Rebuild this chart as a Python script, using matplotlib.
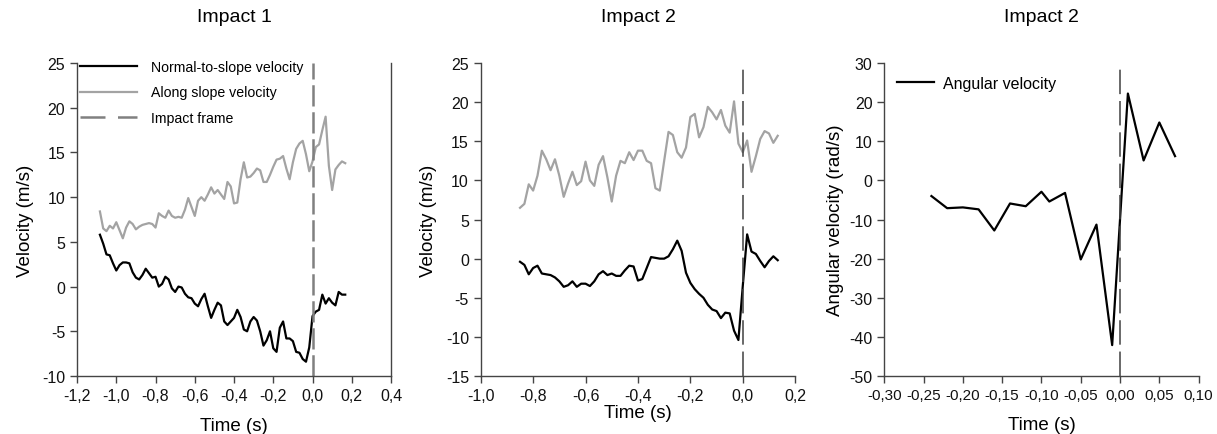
import numpy as np
import matplotlib
matplotlib.use("Agg")
import matplotlib.pyplot as plt

plt.rcParams['font.family'] = ['Liberation Sans', 'DejaVu Sans']
plt.rcParams['axes.unicode_minus'] = False

# video frames at 60 fps, frame 0 = impact
fps = 60.0
frames1 = np.arange(-65, 11)
frames2 = np.arange(-51, 9)

normal1 = [5.8, 4.8, 3.6, 3.5, 2.6, 1.8, 2.4, 2.7, 2.7, 2.6,
           1.6, 1.0, 0.8, 1.3, 2.0, 1.5, 1.0, 1.1, 0.0, 0.3,
           1.1, 0.8, -0.2, -0.6, 0.0, -0.1, -0.8, -1.2, -1.3, -1.9,
           -2.2, -1.4, -0.8, -2.2, -3.5, -2.6, -1.8, -2.1, -3.9, -4.3,
           -3.9, -3.5, -2.6, -3.4, -4.8, -5.0, -3.9, -3.4, -3.8, -5.0,
           -6.6, -6.0, -5.0, -6.9, -7.3, -4.6, -3.9, -5.8, -5.8, -6.1,
           -7.3, -7.4, -8.1, -8.4, -6.8, -3.3, -2.8, -2.6, -0.9, -1.9,
           -1.3, -1.8, -2.1, -0.6, -0.9, -0.9]
along1 = [8.4, 6.5, 6.2, 6.8, 6.5, 7.2, 6.3, 5.4, 6.6, 7.3,
          7.0, 6.4, 6.7, 6.9, 7.0, 7.1, 7.0, 6.6, 8.2, 7.9,
          7.7, 8.5, 7.9, 7.7, 7.8, 7.7, 8.6, 9.9, 8.9, 7.9,
          9.6, 10.0, 9.6, 10.3, 11.1, 10.4, 10.8, 10.3, 9.8, 11.7,
          11.2, 9.3, 9.4, 12.0, 13.9, 12.2, 12.3, 12.7, 13.2, 13.0,
          11.7, 11.7, 12.5, 13.4, 14.2, 14.3, 14.6, 13.2, 12.0, 13.9,
          15.4, 16.0, 16.3, 14.8, 12.9, 14.0, 15.6, 15.9, 17.5, 19.0,
          13.5, 10.8, 13.1, 13.6, 14.0, 13.8]

normal2 = [-0.4, -0.8, -2.0, -1.2, -0.9, -1.9, -2.0, -2.1, -2.4, -2.9,
           -3.6, -3.4, -2.9, -3.6, -3.2, -3.2, -3.5, -2.9, -2.0, -1.6,
           -2.1, -1.9, -2.2, -2.2, -1.5, -0.9, -1.0, -2.8, -2.6, -1.2,
           0.2, 0.1, 0.0, 0.0, 0.3, 1.2, 2.3, 1.0, -1.8, -3.1,
           -3.9, -4.5, -5.0, -5.9, -6.5, -6.7, -7.6, -6.9, -7.0, -9.2,
           -10.4, -3.5, 3.1, 0.9, 0.6, -0.3, -1.1, -0.3, 0.3, -0.2]
along2 = [6.5, 7.0, 9.5, 8.7, 10.6, 13.8, 12.7, 11.3, 12.7, 10.6,
          7.9, 9.6, 11.1, 9.4, 9.9, 12.4, 10.0, 9.3, 12.0, 13.1,
          10.4, 7.3, 10.6, 12.5, 12.2, 13.6, 12.6, 13.8, 13.8, 12.5,
          12.2, 9.0, 8.7, 12.5, 16.2, 15.8, 13.6, 12.9, 14.2, 18.1,
          18.5, 15.5, 16.8, 19.4, 18.7, 17.8, 19.0, 17.0, 16.1, 20.1,
          14.7, 13.6, 15.1, 11.1, 13.1, 15.3, 16.3, 16.0, 14.8, 15.7]

t3 = [-0.24, -0.22, -0.20, -0.18, -0.16, -0.14, -0.12, -0.10, -0.09,
      -0.07, -0.05, -0.03, -0.01, 0.01, 0.03, 0.05, 0.07]
angular3 = [-4.0, -7.1, -6.9, -7.4, -12.8, -5.9, -6.6, -2.9, -5.4,
            -3.2, -20.2, -11.3, -42.1, 22.2, 5.1, 14.8, 6.2]

t1 = frames1 / fps
t2 = frames2 / fps

gray = '#a3a3a3'
spine_col = '#444444'


def comma(v, nd):
    v = round(v, nd)
    if v == 0:
        v = 0.0
    return ('%.*f' % (nd, v)).replace('.', ',')


def style(ax, right=False):
    for s in ['top', 'right']:
        ax.spines[s].set_visible(False)
    if right:
        ax.spines['right'].set_visible(True)
    for s in ax.spines.values():
        s.set_color(spine_col)
        s.set_linewidth(1.0)
    ax.tick_params(direction='out', length=5, width=1, color=spine_col,
                   labelsize=11.5, labelcolor='#111111')


fig = plt.figure(figsize=(12.17, 4.35), dpi=100)
ax1 = fig.add_axes([0.0633, 0.1333, 0.258, 0.7195])
ax2 = fig.add_axes([0.395, 0.1333, 0.2584, 0.7195])
ax3 = fig.add_axes([0.7266, 0.1333, 0.2583, 0.7195])

# panel 1
ax1.plot(t1, normal1, color='black', lw=1.6, label='Normal-to-slope velocity')
ax1.plot(t1, along1, color=gray, lw=1.6, label='Along slope velocity')
ax1.plot([0, 0], [-10, 25], color='#808080', lw=1.8, dashes=(8.5, 2.3), label='Impact frame')
ax1.set_xlim(-1.2, 0.4)
ax1.set_ylim(-10, 25)
ax1.set_xticks(np.round(np.arange(-1.2, 0.41, 0.2), 1))
ax1.set_yticks(np.arange(-10, 26, 5))
ax1.xaxis.set_major_formatter(plt.FuncFormatter(lambda v, p: comma(v, 1)))
style(ax1, right=True)
ax1.set_xlabel('Time (s)', fontsize=13.5, labelpad=10)
ax1.set_ylabel('Velocity (m/s)', fontsize=13.5, labelpad=6)
ax1.set_title('Impact 1', fontsize=14, pad=30)
leg = ax1.legend(loc='upper left', bbox_to_anchor=(-0.03, 1.05), frameon=False,
                 fontsize=10.2, handlelength=4.0, handletextpad=1.0, labelspacing=0.8)
leg.get_lines()[2].set_dashes((10, 5))

# panel 2
ax2.plot(t2, normal2, color='black', lw=1.6)
ax2.plot(t2, along2, color=gray, lw=1.6)
ax2.plot([0, 0], [-15, 25], color='#404040', lw=1.1, dashes=(16, 4.5))
ax2.set_xlim(-1.0, 0.2)
ax2.set_ylim(-15, 25)
ax2.set_xticks(np.round(np.arange(-1.0, 0.21, 0.2), 1))
ax2.set_yticks(np.arange(-15, 26, 5))
ax2.xaxis.set_major_formatter(plt.FuncFormatter(lambda v, p: comma(v, 1)))
style(ax2)
ax2.set_xlabel('Time (s)', fontsize=13.5, labelpad=1)
ax2.set_ylabel('Velocity (m/s)', fontsize=13.5, labelpad=6)
ax2.set_title('Impact 2', fontsize=14, pad=30)

# panel 3
ax3.plot(t3, angular3, color='black', lw=1.6, label='Angular velocity')
ax3.plot([0, 0], [-50, 30], color='#404040', lw=1.1, dashes=(16, 4.5))
ax3.set_xlim(-0.30, 0.10)
ax3.set_ylim(-50, 30)
ax3.set_xticks(np.round(np.arange(-0.30, 0.101, 0.05), 2))
ax3.set_yticks(np.arange(-50, 31, 10))
ax3.xaxis.set_major_formatter(plt.FuncFormatter(lambda v, p: comma(v, 2)))
style(ax3)
ax3.tick_params(axis='x', labelsize=11)
ax3.set_xlabel('Time (s)', fontsize=13.5, labelpad=10)
ax3.set_ylabel('Angular velocity (rad/s)', fontsize=13.5, labelpad=4)
ax3.set_title('Impact 2', fontsize=14, pad=30)
ax3.legend(loc='upper left', bbox_to_anchor=(-0.005, 1.005), frameon=False,
           fontsize=11.5, handlelength=2.3, handletextpad=0.55)

fig.savefig('out.png', dpi=100)
